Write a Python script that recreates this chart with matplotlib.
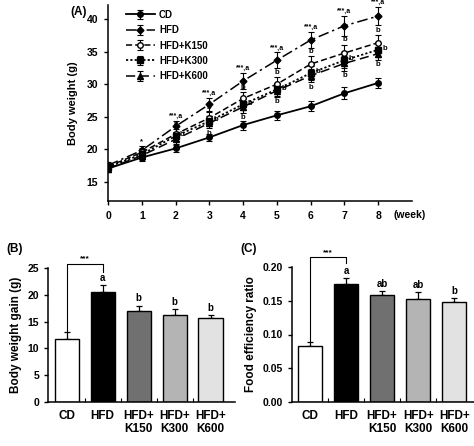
import matplotlib
matplotlib.use("Agg")
import matplotlib.pyplot as plt
import numpy as np

plt.rcParams['font.family'] = ['Liberation Sans', 'DejaVu Sans']
plt.rcParams['font.weight'] = 'bold'
plt.rcParams['axes.labelweight'] = 'bold'

# ---- Panel A data ----
weeks = [0, 1, 2, 3, 4, 5, 6, 7, 8]
series_names = ["CD", "HFD", "HFD+K150", "HFD+K300", "HFD+K600"]
cd = [17.0, 18.7, 20.1, 21.8, 23.7, 25.2, 26.6, 28.6, 30.2]
hfd = [17.5, 19.8, 23.5, 26.9, 30.5, 33.7, 36.8, 39.0, 40.5]
k150 = [17.3, 19.5, 22.3, 24.8, 27.8, 30.0, 33.1, 34.8, 36.4]
k300 = [17.2, 19.2, 22.0, 24.3, 26.9, 29.2, 31.7, 33.7, 35.3]
k600 = [17.0, 19.0, 21.5, 24.0, 26.5, 29.0, 31.3, 33.2, 34.7]
cd_err = [0.5, 0.5, 0.5, 0.6, 0.7, 0.7, 0.8, 0.9, 0.8]
hfd_err = [0.5, 0.6, 0.8, 1.0, 1.2, 1.2, 1.2, 1.5, 1.4]
k150_err = [0.5, 0.6, 0.8, 0.9, 1.0, 1.1, 1.2, 1.3, 1.2]
k300_err = [0.5, 0.6, 0.7, 0.8, 0.9, 1.0, 1.1, 1.2, 1.1]
k600_err = [0.5, 0.5, 0.7, 0.8, 0.9, 1.0, 1.0, 1.1, 1.0]
week_ticks = ["0", "1", "2", "3", "4", "5", "6", "7", "8"]

# ---- Panel B / C data ----
groups = ["CD", "HFD", "HFD+\nK150", "HFD+\nK300", "HFD+\nK600"]
gain = [11.8, 20.5, 17.0, 16.2, 15.6]
gain_err = [1.2, 1.3, 1.0, 1.1, 0.6]
gain_letters = ["", "a", "b", "b", "b"]
fer = [0.083, 0.175, 0.158, 0.153, 0.148]
fer_err = [0.006, 0.009, 0.007, 0.010, 0.006]
fer_letters = ["", "a", "ab", "ab", "b"]
bar_colors = ["white", "black", "#707070", "#b4b4b4", "#e2e2e2"]

W, H = 474, 446
fig = plt.figure(figsize=(W / 100, H / 100), dpi=100)

def ax_px(l, r, t, b):
    return fig.add_axes([l / W, 1 - b / H, (r - l) / W, (b - t) / H])

# ================= Panel A =================
axA = ax_px(108, 412, 5, 201)
styles = [
    dict(ls='-', marker='o', mfc='black', lw=1.3),
    dict(ls=(0, (7, 2.5, 1.5, 2.5)), marker='D', mfc='black', lw=1.1, ms=3.5),
    dict(ls=(0, (4, 2)), marker='o', mfc='white', lw=1.1),
    dict(ls=(0, (1.2, 1.2)), marker='s', mfc='black', lw=1.3),
    dict(ls=(0, (6, 3)), marker='^', mfc='black', lw=1.1),
]
data = [cd, hfd, k150, k300, k600]
errs = [cd_err, hfd_err, k150_err, k300_err, k600_err]
for name, y, e, st in zip(series_names, data, errs, styles):
    ms = st.pop('ms', 4)
    axA.errorbar(weeks, y, yerr=e, color='black', mec='black', ms=ms,
                 capsize=2.2, elinewidth=0.8, capthick=0.8, label=name, **st)

for i, w in enumerate(weeks):
    if w == 1:
        axA.text(w, hfd[i] + hfd_err[i] + 0.2, "*", ha='center', va='bottom', fontsize=5.5)
    elif w >= 2:
        axA.text(w, hfd[i] + hfd_err[i] + 0.15, "***,a", ha='center', va='bottom', fontsize=5)
        axA.text(w, k150[i] + k150_err[i] + 0.2, "b", ha='center', va='bottom', fontsize=5.5)
        axA.text(w + 0.13, k300[i] + 0.2, "b", ha='left', va='center', fontsize=5.5)
        axA.text(w, k600[i] - k600_err[i] - 0.2, "b", ha='center', va='top', fontsize=5.5)

axA.set_xlim(0, 9)
axA.set_ylim(12, 42.2)
axA.set_xticks(weeks)
axA.set_xticklabels(week_ticks, fontsize=7.5, fontweight='bold')
axA.set_yticks([15, 20, 25, 30, 35, 40])
axA.set_yticklabels(["15", "20", "25", "30", "35", "40"], fontsize=7.5, fontweight='bold')
axA.text(8.45, -0.045, "(week)", transform=axA.get_xaxis_transform(), ha='left', va='top',
         fontsize=7.5, fontweight='bold')
axA.set_ylabel("Body weight (g)", fontsize=8, fontweight='bold', labelpad=6)
for s in ['top', 'right']:
    axA.spines[s].set_visible(False)
for s in ['left', 'bottom']:
    axA.spines[s].set_linewidth(1.1)
axA.tick_params(direction='out', length=3, width=1, pad=4)
leg = axA.legend(loc='upper left', bbox_to_anchor=(0.03, 1.02), frameon=False,
                 handlelength=3.0, labelspacing=0.55, handletextpad=0.4,
                 prop=dict(weight='bold', size=7))
fig.text(70 / W, 1 - 12 / H, "(A)", fontsize=8.5, fontweight='bold', va='center')

# ================= Bar panels =================
def bar_panel(ax, vals, err, letters, ylim, yticks, yticklabels, ylabel, star_y, leg_top, letter_off):
    x = np.arange(len(groups))
    ax.bar(x, vals, width=0.67, color=bar_colors, edgecolor='black', linewidth=1.0, zorder=2)
    ax.errorbar(x, vals, yerr=[np.zeros(len(vals)), err], fmt='none', ecolor='black',
                elinewidth=0.9, capsize=2.5, capthick=0.9, zorder=1)
    for xi, v, e, l in zip(x, vals, err, letters):
        if l:
            ax.text(xi, v + e + letter_off, l, ha='center', va='bottom', fontsize=7, fontweight='bold')
    # bracket
    ax.plot([0, 0, 1, 1], [vals[0] + err[0] + letter_off * 0.3, star_y, star_y, leg_top],
            color='black', lw=0.8, clip_on=False)
    ax.text(0.5, star_y + letter_off * 0.5, "***", ha='center', va='bottom', fontsize=6, fontweight='bold')
    ax.set_xlim(-0.52, 4.68)
    ax.set_ylim(*ylim)
    ax.set_xticks(x)
    ax.set_xticklabels(groups, fontsize=8.5, fontweight='bold', linespacing=1.1)
    ax.tick_params(axis='x', length=0, pad=6)
    ax.set_xticks(np.arange(0.5, 4.5, 1), minor=True)
    ax.tick_params(axis='x', which='minor', direction='in', length=3, width=0.8)
    ax.set_yticks(yticks)
    ax.set_yticklabels(yticklabels, fontsize=7.5, fontweight='bold')
    ax.tick_params(axis='y', direction='out', length=3, width=1)
    ax.set_ylabel(ylabel, fontsize=8.5, fontweight='bold', labelpad=4)
    for s in ['top', 'right']:
        ax.spines[s].set_visible(False)
    for s in ['left', 'bottom']:
        ax.spines[s].set_linewidth(1.1)

axB = ax_px(48, 235, 268, 402)
bar_panel(axB, gain, gain_err, gain_letters, (0, 25), [0, 5, 10, 15, 20, 25],
          ["0", "5", "10", "15", "20", "25"], "Body weight gain (g)", 25.8, 24.2, 0.4)
fig.text(6 / W, 1 - 249 / H, "(B)", fontsize=8.5, fontweight='bold', va='center')

axC = ax_px(292, 474, 267, 402)
bar_panel(axC, fer, fer_err, fer_letters, (0, 0.20), [0, 0.05, 0.10, 0.15, 0.20],
          ["0.00", "0.05", "0.10", "0.15", "0.20"], "Food efficiency ratio", 0.215, 0.206, 0.003)
axC.set_xlim(-0.5, 4.55)
fig.text(240 / W, 1 - 249 / H, "(C)", fontsize=8.5, fontweight='bold', va='center')

fig.savefig("out.png", dpi=100)
